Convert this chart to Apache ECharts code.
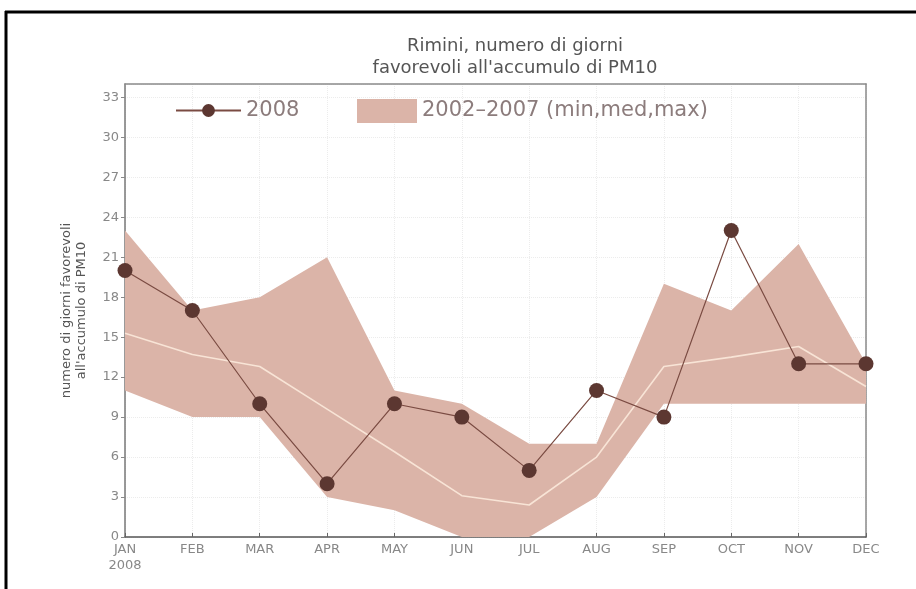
<!DOCTYPE html>
<html>
<head>
<meta charset="utf-8">
<script src="https://cdn.jsdelivr.net/npm/echarts@6/dist/echarts.min.js"></script>
<style>
  html, body { margin: 0; padding: 0; background: #fff; }
  #main { width: 916px; height: 589px; }
</style>
</head>
<body>
<div id="main"></div>
<script>
var chartDom = document.getElementById('main');
var myChart = echarts.init(chartDom);

// mesi
const months = ['JAN', 'FEB', 'MAR', 'APR', 'MAY', 'JUN', 'JUL', 'AUG', 'SEP', 'OCT', 'NOV', 'DEC'];
// 2008
const days2008 = [20, 17, 10, 4, 10, 9, 5, 11, 9, 23, 13, 13];
// 2002-2007 min / med / max
const minDays = [11, 9, 9, 3, 2, 0, 0, 3, 10, 10, 10, 10];
const medDays = [15.3, 13.7, 12.8, 9.6, 6.4, 3.1, 2.4, 6.0, 12.8, 13.5, 14.3, 11.3];
const maxDays = [23, 17, 18, 21, 11, 10, 7, 7, 19, 17, 22, 13];
const yTicks = [0, 3, 6, 9, 12, 15, 18, 21, 24, 27, 30, 33];

const bandName = '2002\u20132007 (min,med,max)';
const bandColor = '#dbb4a8';
const fontName = 'DejaVu Sans';

var option = {
    animation: false,
    backgroundColor: '#fff',
    title: {
        text: 'Rimini, numero di giorni\nfavorevoli all\'accumulo di PM10',
        left: 510,
        top: 30,
        textAlign: 'center',
        textStyle: {
            fontFamily: fontName,
            fontSize: 18,
            fontWeight: 'normal',
            color: '#555',
            lineHeight: 22
        }
    },
    legend: [
        {
            left: 170,
            top: 95,
            itemWidth: 65,
            itemHeight: 16,
            itemGap: 10,
            data: ['2008'],
            textStyle: { fontFamily: fontName, fontSize: 21, color: '#8c7c7c' }
        },
        {
            left: 352,
            top: 94,
            itemWidth: 60,
            itemHeight: 24,
            data: [{ name: bandName, icon: 'rect' }],
            textStyle: { fontFamily: fontName, fontSize: 21, color: '#8c7c7c' }
        }
    ],
    grid: {
        left: 125,
        right: 50,
        top: 84,
        bottom: 52
    },
    xAxis: [
        {
            type: 'category',
            data: months,
            boundaryGap: false,
            axisLine: { lineStyle: { color: '#555', width: 1.5 } },
            axisTick: { inside: true, length: 4, lineStyle: { color: '#666' } },
            axisLabel: {
                fontFamily: fontName,
                fontSize: 13,
                color: '#888',
                margin: 5,
                lineHeight: 16,
                formatter: (v, i) => i === 0 ? v + '\n2008' : v
            },
            splitLine: { show: true, lineStyle: { color: '#ececec', type: 'dotted' } }
        },
        {
            type: 'category',
            data: months,
            boundaryGap: false,
            position: 'top',
            axisLine: { show: true, onZero: false, lineStyle: { color: '#8a8a8a', width: 1.5 } },
            axisTick: { show: false },
            axisLabel: { show: false },
            splitLine: { show: false }
        }
    ],
    yAxis: [
        {
            type: 'value',
            min: 0,
            max: 34,
            interval: 3,
            name: 'numero di giorni favorevoli\nall\'accumulo di PM10',
            nameLocation: 'middle',
            nameRotate: 90,
            nameGap: 36,
            nameTextStyle: { fontFamily: fontName, fontSize: 13, color: '#555', lineHeight: 15 },
            axisLine: { show: true, lineStyle: { color: '#777', width: 1.5 } },
            axisTick: { show: true, length: 4, lineStyle: { color: '#888' } },
            axisLabel: {
                fontFamily: fontName,
                fontSize: 13,
                color: '#888',
                margin: 6,
                showMaxLabel: false,
                formatter: v => yTicks.indexOf(v) >= 0 ? String(v) : ''
            },
            splitLine: { show: true, lineStyle: { color: '#ececec', type: 'dotted' } }
        },
        {
            type: 'value',
            min: 0,
            max: 34,
            interval: 3,
            position: 'right',
            axisLine: { show: true, onZero: false, lineStyle: { color: '#8a8a8a', width: 1.5 } },
            axisTick: { show: false },
            axisLabel: { show: false },
            splitLine: { show: false }
        }
    ],
    series: [
        {
            name: 'min',
            type: 'line',
            stack: 'band',
            data: minDays,
            symbol: 'none',
            lineStyle: { opacity: 0 },
            silent: true,
            z: 1
        },
        {
            name: bandName,
            type: 'line',
            stack: 'band',
            data: maxDays.map((m, i) => m - minDays[i]),
            symbol: 'none',
            itemStyle: { color: bandColor },
            lineStyle: { opacity: 0 },
            areaStyle: { color: bandColor, opacity: 1 },
            z: 2
        },
        {
            name: 'med',
            type: 'line',
            data: medDays,
            symbol: 'none',
            lineStyle: { color: '#f8e4d6', width: 1.6 },
            z: 3
        },
        {
            name: '2008',
            type: 'line',
            data: days2008,
            symbol: 'circle',
            symbolSize: 15,
            itemStyle: { color: '#5c3731' },
            lineStyle: { color: '#7a4b42', width: 1.2 },
            z: 4
        }
    ],
    graphic: [
        { type: 'line', shape: { x1: 5, y1: 12, x2: 916, y2: 12 }, style: { stroke: '#000', lineWidth: 3 } },
        { type: 'line', shape: { x1: 6, y1: 11, x2: 6, y2: 589 }, style: { stroke: '#000', lineWidth: 3 } }
    ]
};

myChart.setOption(option);
</script>
</body>
</html>
